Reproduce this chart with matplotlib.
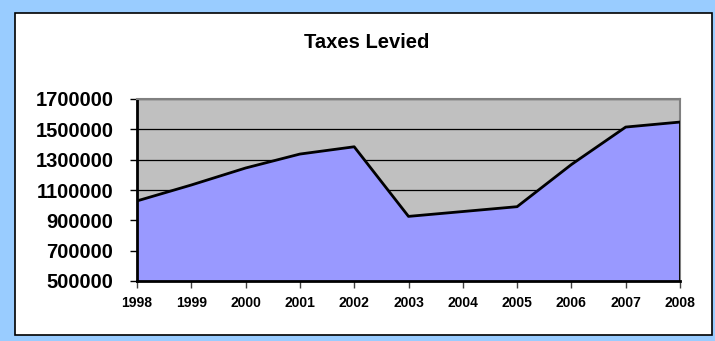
import numpy as np
import matplotlib.pyplot as plt
from matplotlib.patches import Rectangle

plt.rcParams['font.family'] = ['Liberation Sans', 'DejaVu Sans']

years = ["1998", "1999", "2000", "2001", "2002", "2003", "2004", "2005", "2006", "2007", "2008"]
taxes = [1028000, 1133000, 1245000, 1337000, 1385000, 926000, 958000, 990000, 1268000, 1515000, 1548000]
yticks = [500000, 700000, 900000, 1100000, 1300000, 1500000, 1700000]

W, H = 715, 341
fig = plt.figure(figsize=(W / 100, H / 100), dpi=100)
fig.patch.set_facecolor("#99CCFF")

# white chart area with black frame, kept behind the axes
fig.add_artist(Rectangle((15 / W, 1 - 335 / H), 697 / W, 322 / H, transform=fig.transFigure,
                         facecolor="white", edgecolor="black", linewidth=1.2, zorder=-5))

ax = fig.add_axes([137 / W, 1 - 281 / H, (680 - 137) / W, (281 - 99) / H])
ax.set_zorder(1)
ax.set_facecolor("#C0C0C0")

x = np.arange(len(years))
ax.fill_between(x, taxes, 0, facecolor="#9999FF", edgecolor="none", zorder=2)
ax.plot(x, taxes, color="black", linewidth=2, zorder=3)
ax.plot([x[-1], x[-1]], [0, taxes[-1]], color="black", linewidth=2, zorder=3)

ax.set_xlim(0, len(years) - 1)
ax.set_ylim(500000, 1700000)
ax.set_yticks(yticks)
ax.set_yticklabels([str(v) for v in yticks], fontsize=14.5, fontweight="bold")
ax.set_xticks(x)
ax.set_xticklabels(years, fontsize=10, fontweight="bold")
ax.yaxis.grid(True, color="black", linewidth=0.9)
ax.set_axisbelow(True)

ax.tick_params(axis="y", direction="out", length=5, width=1, pad=12)
ax.tick_params(axis="x", direction="out", length=5, width=1, color="#404040", pad=6)

for s in ("top", "right"):
    ax.spines[s].set_color("#808080")
    ax.spines[s].set_linewidth(1.5)
for s in ("left", "bottom"):
    ax.spines[s].set_color("black")
    ax.spines[s].set_linewidth(2)

fig.text(367 / W, 1 - 42 / H, "Taxes Levied", ha="center", va="center",
         fontsize=14.5, fontweight="bold")

fig.savefig("out.png", dpi=100, facecolor=fig.get_facecolor())
